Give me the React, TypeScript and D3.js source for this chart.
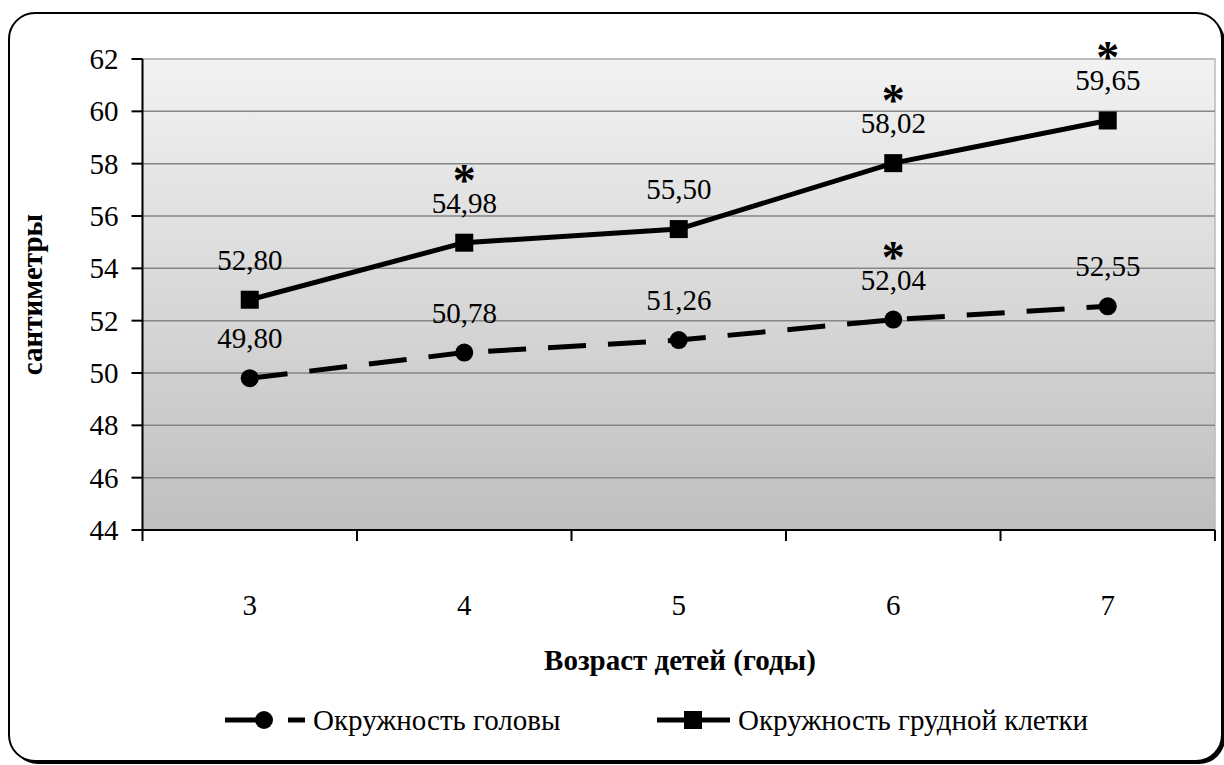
import React from "react";
import * as d3 from "d3";

// Возраст детей (годы)
const ages = ["3", "4", "5", "6", "7"];
// Окружность головы, см
const headValues = [49.8, 50.78, 51.26, 52.04, 52.55];
// Окружность грудной клетки, см
const chestValues = [52.8, 54.98, 55.5, 58.02, 59.65];
// Статистически значимые различия (звёздочки над подписями)
const headStars = [false, false, false, true, false];
const chestStars = [false, true, false, true, true];
const yTicks = [44, 46, 48, 50, 52, 54, 56, 58, 60, 62];
const seriesNames = ["Окружность головы", "Окружность грудной клетки"];

const W = 1224;
const H = 765;
const FS = 29;

const left = 142.5;
const right = 1215;
const top = 59;
const bottom = 530;

const txt: React.CSSProperties = { fontFamily: '"Liberation Serif"' };

export default function App() {
  const x = d3.scaleBand<string>().domain(ages).range([left, right]);
  const y = d3.scaleLinear().domain([44, 62]).range([bottom, top]);
  const cx = (a: string) => (x(a) as number) + x.bandwidth() / 2;

  const line = d3
    .line<number>()
    .x((_, i) => cx(ages[i]))
    .y((v) => y(v));

  const fmt = (v: number) => v.toFixed(2).replace(".", ",");
  const bandEdges = ages.map((a) => x(a) as number).concat([right]);

  return (
    <svg width={W} height={H} style={{ position: "absolute", left: 0, top: 0, background: "#fff" }}>
      <defs>
        <linearGradient id="plotBg" x1="0" y1="0" x2="0" y2="1">
          <stop offset="0%" stopColor="#f2f2f2" />
          <stop offset="100%" stopColor="#bfbfbf" />
        </linearGradient>
      </defs>

      {/* рамка диаграммы с тенью */}
      <rect x={12} y={16} width={1213} height={748} rx={26} fill="#000" />
      <rect x={9} y={13} width={1213} height={748} rx={26} fill="#fff" stroke="#000" strokeWidth={2} />

      {/* область построения */}
      <rect x={left} y={top} width={right - left} height={bottom - top} fill="url(#plotBg)" stroke="#bbb" strokeWidth={1.5} />

      {/* линии сетки */}
      {yTicks.slice(1).map((t) => (
        <line key={t} x1={left} x2={right} y1={y(t)} y2={y(t)} stroke={t === 62 ? "#b8b8b8" : "#868686"} strokeWidth={1.5} />
      ))}

      {/* ось Y */}
      <line x1={left} x2={left} y1={top} y2={bottom} stroke="#000" strokeWidth={2} />
      {yTicks.map((t) => (
        <g key={t}>
          <line x1={left - 11} x2={left} y1={y(t)} y2={y(t)} stroke="#000" strokeWidth={2} />
          <text x={left - 24} y={y(t) + 10} textAnchor="end" fontSize={FS} style={txt}>
            {t}
          </text>
        </g>
      ))}

      {/* ось X */}
      <line x1={left} x2={right} y1={bottom} y2={bottom} stroke="#000" strokeWidth={2} />
      {bandEdges.map((e, i) => (
        <line key={i} x1={e} x2={e} y1={bottom} y2={bottom + 11} stroke="#000" strokeWidth={2} />
      ))}
      {ages.map((a) => (
        <text key={a} x={cx(a)} y={615} textAnchor="middle" fontSize={FS} style={txt}>
          {a}
        </text>
      ))}

      {/* подписи осей */}
      <text x={680} y={670} textAnchor="middle" fontSize={FS} fontWeight="bold" style={txt}>
        Возраст детей (годы)
      </text>
      <text
        transform={`translate(42, ${(top + bottom) / 2}) rotate(-90)`}
        textAnchor="middle"
        fontSize={FS}
        fontWeight="bold"
        style={txt}
      >
        сантиметры
      </text>

      {/* окружность головы: пунктир с кругами */}
      <path d={line(headValues) ?? ""} fill="none" stroke="#000" strokeWidth={5} strokeDasharray="38 22" />
      {headValues.map((v, i) => (
        <circle key={i} cx={cx(ages[i])} cy={y(v)} r={9} fill="#000" />
      ))}

      {/* окружность грудной клетки: сплошная с квадратами */}
      <path d={line(chestValues) ?? ""} fill="none" stroke="#000" strokeWidth={5} />
      {chestValues.map((v, i) => (
        <rect key={i} x={cx(ages[i]) - 9} y={y(v) - 9} width={18} height={18} fill="#000" />
      ))}

      {/* подписи значений */}
      {[
        { vals: headValues, stars: headStars },
        { vals: chestValues, stars: chestStars },
      ].map((s, si) =>
        s.vals.map((v, i) => (
          <g key={`${si}-${i}`}>
            <text x={cx(ages[i])} y={y(v) - 30} textAnchor="middle" fontSize={FS} style={txt}>
              {fmt(v)}
            </text>
            {s.stars[i] && (
              <text x={cx(ages[i])} y={y(v) - 47} textAnchor="middle" fontSize={46} fontWeight="bold" style={txt}>
                *
              </text>
            )}
          </g>
        ))
      )}

      {/* легенда */}
      <g>
        <line x1={225} x2={258} y1={720} y2={720} stroke="#000" strokeWidth={5} />
        <circle cx={264} cy={720} r={9} fill="#000" />
        <line x1={288} x2={305} y1={720} y2={720} stroke="#000" strokeWidth={5} />
        <text x={313} y={730} fontSize={FS} style={txt}>
          {seriesNames[0]}
        </text>
        <line x1={657} x2={730} y1={720} y2={720} stroke="#000" strokeWidth={5} />
        <rect x={684} y={711} width={18} height={18} fill="#000" />
        <text x={738} y={730} fontSize={FS} style={txt}>
          {seriesNames[1]}
        </text>
      </g>
    </svg>
  );
}
